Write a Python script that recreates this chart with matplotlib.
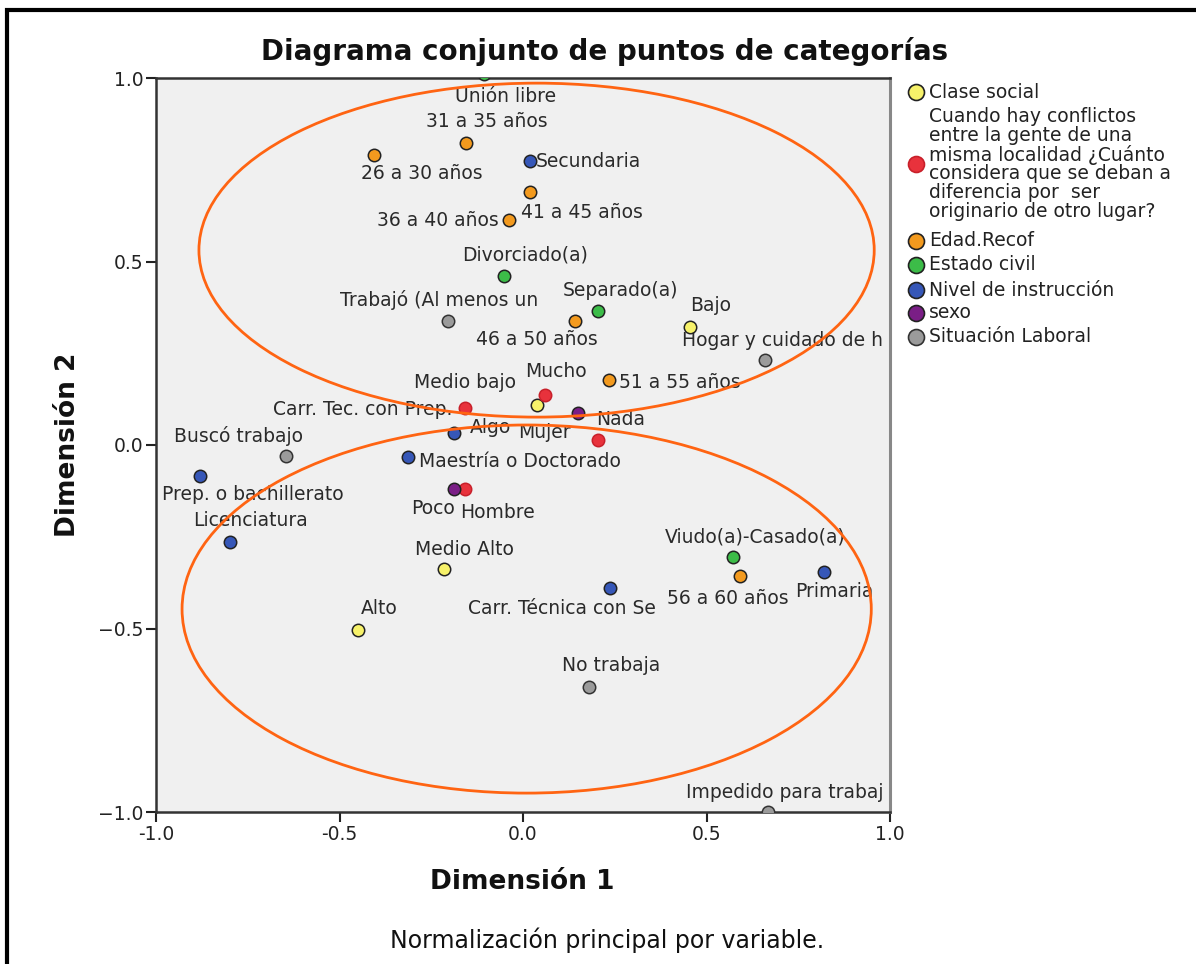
import matplotlib
matplotlib.use('Agg')
import matplotlib.pyplot as plt
from matplotlib.patches import Ellipse
from matplotlib.lines import Line2D
from matplotlib.ticker import FuncFormatter

# ---------------- data ----------------
groups = ["Clase social",
          "Cuando hay conflictos\nentre la gente de una\nmisma localidad ¿Cuánto\nconsidera que se deban a\ndiferencia por  ser\noriginario de otro lugar?",
          "Edad.Recof", "Estado civil", "Nivel de instrucción", "sexo", "Situación Laboral"]

clase_labels = ["Bajo", "Medio bajo", "Medio Alto", "Alto"]
clase_x = [0.456, 0.039, -0.216, -0.450]
clase_y = [0.322, 0.109, -0.338, -0.504]

conf_labels = ["Mucho", "Algo", "Nada", "Poco"]
conf_x = [0.059, -0.159, 0.205, -0.159]
conf_y = [0.136, 0.101, 0.014, -0.120]

edad_labels = ["26 a 30 años", "31 a 35 años", "36 a 40 años", "41 a 45 años",
               "46 a 50 años", "51 a 55 años", "56 a 60 años"]
edad_x = [-0.407, -0.154, -0.037, 0.018, 0.143, 0.235, 0.592]
edad_y = [0.790, 0.823, 0.613, 0.689, 0.338, 0.177, -0.357]

civil_labels = ["Unión libre", "Divorciado(a)", "Separado(a)", "Viudo(a)-Casado(a)"]
civil_x = [-0.107, -0.053, 0.205, 0.573]
civil_y = [1.011, 0.460, 0.365, -0.305]

instr_labels = ["Secundaria", "Carr. Tec. con Prep.", "Maestría o Doctorado",
                "Prep. o bachillerato", "Licenciatura", "Carr. Técnica con Se", "Primaria"]
instr_x = [0.018, -0.189, -0.312, -0.880, -0.799, 0.238, 0.820]
instr_y = [0.774, 0.033, -0.033, -0.084, -0.264, -0.390, -0.346]

sexo_labels = ["Mujer", "Hombre"]
sexo_x = [0.151, -0.189]
sexo_y = [0.087, -0.120]

lab_labels = ["Trabajó (Al menos un", "Hogar y cuidado de h", "Buscó trabajo",
              "No trabaja", "Impedido para trabaj"]
lab_x = [-0.205, 0.660, -0.646, 0.181, 0.668]
lab_y = [0.338, 0.232, -0.030, -0.659, -1.000]

tick_vals = [-1.0, -0.5, 0.0, 0.5, 1.0]

series = [(clase_labels, clase_x, clase_y), (conf_labels, conf_x, conf_y),
          (edad_labels, edad_x, edad_y), (civil_labels, civil_x, civil_y),
          (instr_labels, instr_x, instr_y), (sexo_labels, sexo_x, sexo_y),
          (lab_labels, lab_x, lab_y)]

# ---------------- style ----------------
face_colors = ["#F7F26A", "#E8323C", "#F39A1E", "#3CBC48", "#3657B8", "#7A1E86", "#9B9B9B"]
edge_colors = ["#222222", "#C8202A", "#222222", "#222222", "#222222", "#222222", "#333333"]

# label offsets in pixels (dx, dy) relative to the point
label_off = {
    "Bajo": (20, 21), "Medio bajo": (-72, 22), "Medio Alto": (21, 20), "Alto": (21, 21),
    "Mucho": (11, 24), "Algo": (26, -20), "Nada": (22, 20), "Poco": (-32, -19),
    "26 a 30 años": (48, -18), "31 a 35 años": (20, 21), "36 a 40 años": (-72, 0),
    "41 a 45 años": (52, -20), "46 a 50 años": (-39, -19), "51 a 55 años": (71, -2),
    "56 a 60 años": (-12, -22),
    "Unión libre": (22, -23), "Divorciado(a)": (22, 21), "Separado(a)": (22, 21),
    "Viudo(a)-Casado(a)": (22, 20),
    "Secundaria": (59, -1), "Carr. Tec. con Prep.": (-91, 23), "Maestría o Doctorado": (111, -4),
    "Prep. o bachillerato": (53, -19), "Licenciatura": (21, 21), "Carr. Técnica con Se": (-48, -20),
    "Primaria": (10, -20),
    "Mujer": (-34, -19), "Hombre": (44, -23),
    "Trabajó (Al menos un": (-9, 21), "Hogar y cuidado de h": (17, 19), "Buscó trabajo": (-47, 20),
    "No trabaja": (22, 21), "Impedido para trabaj": (17, 19),
}

W, H = 1196, 964
fig = plt.figure(figsize=(W / 100, H / 100), dpi=100)
fig.patch.set_facecolor('white')
ax = fig.add_axes([156 / W, 1 - 812 / H, (890 - 156) / W, (812 - 78) / H])
ax.set_facecolor('#F0F0F0')
ax.set_xlim(-1, 1)
ax.set_ylim(-1, 1)
ax.set_xticks(tick_vals)
ax.set_yticks(tick_vals)
ax.xaxis.set_major_formatter(FuncFormatter(lambda v, p: f"{v:.1f}"))
ax.yaxis.set_major_formatter(FuncFormatter(lambda v, p: f"{v:.1f}".replace('-', '\u2212')))
ax.tick_params(direction='out', length=7, width=1.5, labelsize=13.5, colors='#222222', pad=2)
for side in ['left', 'bottom', 'top']:
    ax.spines[side].set_linewidth(1.8)
    ax.spines[side].set_color('#333333')
ax.spines['right'].set_linewidth(2.2)
ax.spines['right'].set_color('#888888')

for i, (labs, xs, ys) in enumerate(series):
    ax.scatter(xs, ys, s=80, facecolor=face_colors[i], edgecolor=edge_colors[i],
               linewidth=1.1, zorder=4, clip_on=True)
    for lab, x, y in zip(labs, xs, ys):
        dx, dy = label_off[lab]
        ax.annotate(lab, (x, y), xytext=(dx, dy), textcoords='offset pixels',
                    ha='center', va='center', fontsize=13.5, color='#2A2A2A',
                    zorder=3, annotation_clip=False, clip_on=True)

# highlighted groups (ellipses)
ell_color = '#FF6412'
ax.add_patch(Ellipse((0.037, 0.531), 1.84, 0.91, fill=False, edgecolor=ell_color,
                     linewidth=2.0, zorder=5))
ax.add_patch(Ellipse((0.010, -0.447), 1.878, 1.003, fill=False, edgecolor=ell_color,
                     linewidth=2.0, zorder=5))

# titles
fig.text(605 / W, 1 - 52 / H, "Diagrama conjunto de puntos de categorías",
         ha='center', va='center', fontsize=20, fontweight='bold', color='#111111')
fig.text(522 / W, 1 - 882 / H, "Dimensión 1", ha='center', va='center',
         fontsize=19, fontweight='bold', color='#111111')
fig.text(68 / W, 1 - 445 / H, "Dimensión 2", ha='center', va='center', rotation=90,
         fontsize=19, fontweight='bold', color='#111111')
fig.text(607 / W, 1 - 940 / H, "Normalización principal por variable.",
         ha='center', va='center', fontsize=17, color='#111111')

# legend (manual)
leg_y = [92, 164, 241, 265, 290, 313, 337]
for i, g in enumerate(groups):
    fig.add_artist(Line2D([916 / W], [1 - leg_y[i] / H], marker='o', markersize=11.5,
                          markerfacecolor=face_colors[i], markeredgecolor=edge_colors[i],
                          markeredgewidth=1.2, linestyle='none'))
    fig.text(929 / W, 1 - leg_y[i] / H, g, ha='left', va='center', fontsize=13.5,
             color='#222222', linespacing=0.98)

# outer frame (left and top edges visible)
fig.add_artist(Line2D([7 / W, 7 / W, 1.0], [0.0, 1 - 10 / H, 1 - 10 / H],
                      color='black', linewidth=3.0, solid_joinstyle='miter'))

fig.savefig('out.png', dpi=100)
